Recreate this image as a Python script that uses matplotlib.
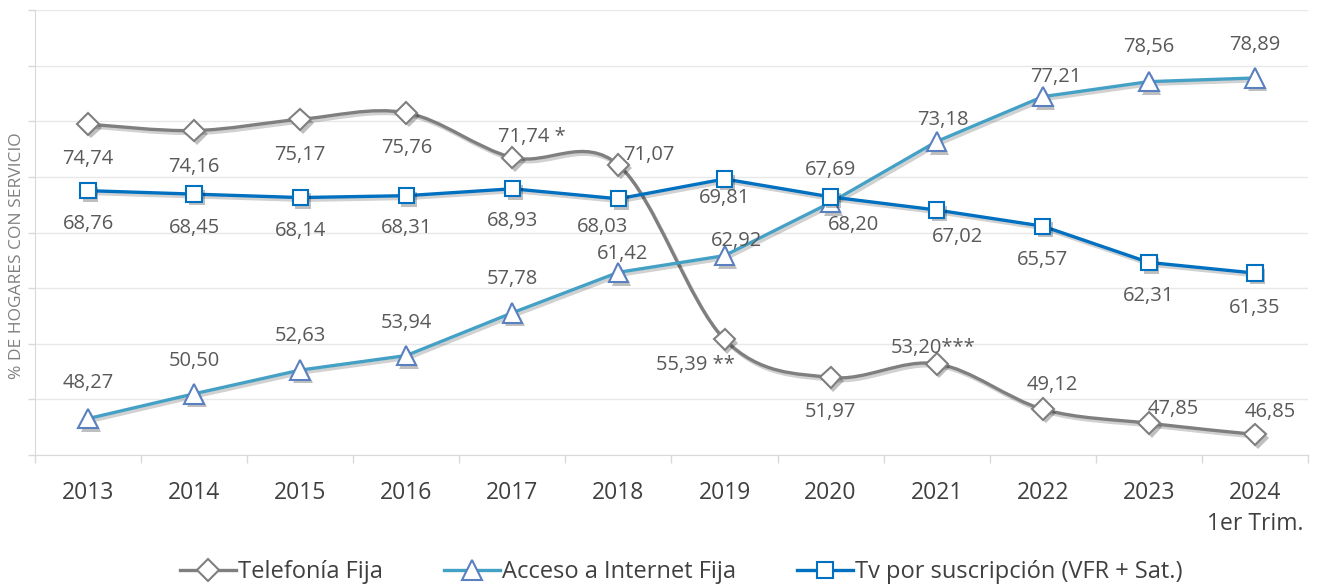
import numpy as np
import matplotlib
matplotlib.use("Agg")
import matplotlib.pyplot as plt
from matplotlib.path import Path
from matplotlib.patches import PathPatch
from matplotlib.lines import Line2D
import matplotlib.patheffects as pe

plt.rcParams['font.family'] = ['Open Sans', 'DejaVu Sans']

# data
years = ['2013', '2014', '2015', '2016', '2017', '2018', '2019', '2020',
         '2021', '2022', '2023', '2024\n1er Trim.']
telefonia = [74.74, 74.16, 75.17, 75.76, 71.74, 71.07, 55.39, 51.97, 53.20, 49.12, 47.85, 46.85]
internet = [48.27, 50.50, 52.63, 53.94, 57.78, 61.42, 62.92, 67.69, 73.18, 77.21, 78.56, 78.89]
tv = [68.76, 68.45, 68.14, 68.31, 68.93, 68.03, 69.81, 68.20, 67.02, 65.57, 62.31, 61.35]
tel_notes = ['', '', '', '', ' *', '', ' **', '', '***', '', '', '']

# label offsets in pixels (dx, dy)
tel_off = [(0, -35), (0, -36), (0, -36), (0, -35), (19, 21), (30, 10), (-29, -26),
           (0, -35), (-4, 16), (10, 24), (24, 14), (15, 22)]
int_off = [(0, 36), (0, 33), (0, 34), (0, 33), (0, 34), (4, 18), (12, 15),
           (0, 33), (6, 21), (13, 20), (0, 35), (0, 33)]
tv_off = [(0, -33), (0, -34), (0, -33), (0, -32), (0, -32), (-16, -28), (0, -19),
          (23, -28), (21, -27), (0, -34), (0, -34), (0, -35)]

c_tel = '#7f7f7f'
c_int = '#44a0c4'
c_int_edge = '#5a80c0'
c_tv = '#0070c0'
c_lbl = '#595959'
c_grid = '#d9d9d9'

fig = plt.figure(figsize=(13.18, 5.85), dpi=100)
ax = fig.add_axes([35 / 1318, 1 - 455 / 585, (1308 - 35) / 1318, 445 / 585])

x = np.arange(len(years))

shadow_line = [pe.SimpleLineShadow(offset=(1.5, -2), shadow_color='k', alpha=0.18), pe.Normal()]
shadow_mark = [pe.SimplePatchShadow(offset=(2, -2.5), shadow_rgbFace='k', alpha=0.25), pe.Normal()]

# smoothed Telefonia line (Catmull-Rom style bezier, like Excel smoothing)
pts = np.column_stack([x, telefonia]).astype(float)
verts = [pts[0]]
codes = [Path.MOVETO]
n = len(pts)
for i in range(n - 1):
    p0 = pts[max(i - 1, 0)]
    p1 = pts[i]
    p2 = pts[i + 1]
    p3 = pts[min(i + 2, n - 1)]
    verts += [p1 + (p2 - p0) / 6, p2 - (p3 - p1) / 6, p2]
    codes += [Path.CURVE4] * 3
ax.add_patch(PathPatch(Path(verts, codes), fill=False, edgecolor=c_tel, lw=2.4,
                       capstyle='round', joinstyle='round', path_effects=shadow_line, zorder=3))
ax.plot(x, telefonia, ls='none', marker='D', ms=11, mfc='white', mec=c_tel, mew=1.5,
        path_effects=shadow_mark, zorder=4)

ax.plot(x, internet, color=c_int, lw=2.4, path_effects=shadow_line, zorder=5)
ax.plot(x, internet, ls='none', marker='^', ms=14, mfc='white', mec=c_int_edge, mew=1.5,
        path_effects=shadow_mark, zorder=6)

ax.plot(x, tv, color=c_tv, lw=2.4, path_effects=shadow_line, zorder=7)
ax.plot(x, tv, ls='none', marker='s', ms=11, mfc='white', mec=c_tv, mew=1.5,
        path_effects=shadow_mark, zorder=8)

# data labels
def fmt(v):
    return f"{v:.2f}".replace('.', ',')

px = 72 / 100
for i in range(len(x)):
    ax.annotate(fmt(telefonia[i]) + tel_notes[i], (x[i], telefonia[i]),
                xytext=(tel_off[i][0] * px, tel_off[i][1] * px), textcoords='offset points',
                ha='center', va='center', fontsize=14.5, color=c_lbl, zorder=10)
    ax.annotate(fmt(internet[i]), (x[i], internet[i]),
                xytext=(int_off[i][0] * px, int_off[i][1] * px), textcoords='offset points',
                ha='center', va='center', fontsize=14.5, color=c_lbl, zorder=10)
    ax.annotate(fmt(tv[i]), (x[i], tv[i]),
                xytext=(tv_off[i][0] * px, tv_off[i][1] * px), textcoords='offset points',
                ha='center', va='center', fontsize=14.5, color=c_lbl, zorder=10)

# axes styling
ax.set_xlim(-0.5, len(years) - 0.5)
ax.set_ylim(45, 85)
ax.set_yticks(np.arange(45, 86, 5))
ax.set_yticklabels([])
ax.yaxis.grid(True, color='#e8e8e8', lw=1)
ax.set_axisbelow(True)
ax.set_xticks(x)
ax.set_xticklabels(years, fontsize=16.5, color='#404040', linespacing=1.35)
ax.set_xticks(np.arange(-0.5, len(years)), minor=True)
ax.tick_params(axis='x', which='major', length=0, pad=19)
ax.tick_params(axis='x', which='minor', length=6, color=c_grid, width=1)
ax.tick_params(axis='y', length=5, color=c_grid, width=1)
for s in ['top', 'right']:
    ax.spines[s].set_visible(False)
ax.spines['left'].set_color(c_grid)
ax.spines['bottom'].set_color(c_grid)

fig.text(17 / 1318, 1 - 256 / 585, '% DE HOGARES CON SERVICIO', rotation=90,
         ha='center', va='center', fontsize=12.5, color='#808080')

handles = [
    Line2D([], [], color=c_tel, lw=2.4, marker='D', ms=11, mfc='white', mec=c_tel, mew=1.5),
    Line2D([], [], color=c_int, lw=2.4, marker='^', ms=14, mfc='white', mec=c_int_edge, mew=1.5),
    Line2D([], [], color=c_tv, lw=2.4, marker='s', ms=11, mfc='white', mec=c_tv, mew=1.5),
]
fig.legend(handles, ['Telefonía Fija', 'Acceso a Internet Fija', 'Tv por suscripción (VFR + Sat.)'],
           loc='center', bbox_to_anchor=(0.517, 1 - 572 / 585), ncol=3, frameon=False,
           fontsize=17, handlelength=2.35, handletextpad=0.1, columnspacing=2.6,
           labelcolor='#404040')

fig.savefig('out.png', dpi=100)
